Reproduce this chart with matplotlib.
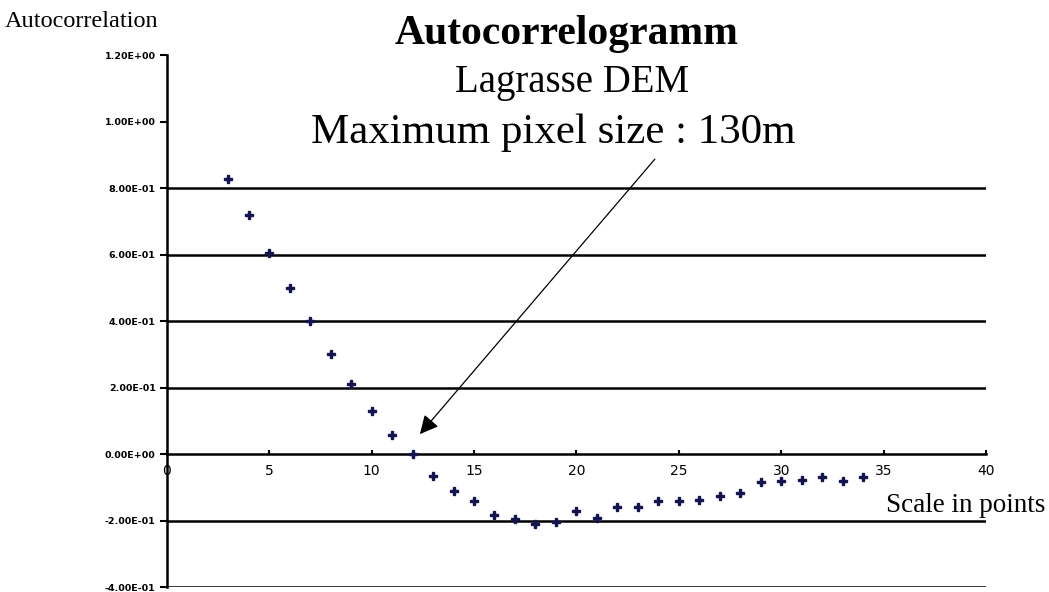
import matplotlib.pyplot as plt
import numpy as np

# autocorrelation
scale = [3, 4, 5, 6, 7, 8, 9, 10, 11, 12, 13, 14, 15, 16, 17, 18, 19, 20, 21,
         22, 23, 24, 25, 26, 27, 28, 29, 30, 31, 32, 33, 34]
autocorr = [0.827, 0.719, 0.605, 0.50, 0.40, 0.30, 0.21, 0.13, 0.057, 0.0,
            -0.066, -0.11, -0.14, -0.183, -0.195, -0.21, -0.204, -0.172,
            -0.192, -0.16, -0.16, -0.142, -0.142, -0.138, -0.127, -0.117,
            -0.084, -0.081, -0.078, -0.068, -0.081, -0.07]
yticks = [-0.4, -0.2, 0.0, 0.2, 0.4, 0.6, 0.8, 1.0, 1.2]
ytick_labels = ['-4.00E-01', '-2.00E-01', '0.00E+00', '2.00E-01', '4.00E-01',
                '6.00E-01', '8.00E-01', '1.00E+00', '1.20E+00']
xticks = [0, 5, 10, 15, 20, 25, 30, 35, 40]

serif = ['Liberation Serif', 'DejaVu Serif']

fig = plt.figure(figsize=(10.49, 5.92), dpi=100)
ax = fig.add_axes([0.159, 0.0084, 0.781, 0.8986])

ax.plot(scale, autocorr, linestyle='none', marker='P', markersize=5.8,
        color='#141450', zorder=3)

ax.set_xlim(0, 40)
ax.set_ylim(-0.4, 1.2)
ax.set_yticks(yticks)
ax.set_yticklabels(ytick_labels, fontsize=6.8, fontweight='bold')
ax.set_xticks(xticks)
ax.set_xticklabels([str(v) for v in xticks], fontsize=7.5, fontweight='bold')

ax.spines['top'].set_visible(False)
ax.spines['right'].set_visible(False)
ax.spines['bottom'].set_position(('data', 0))
ax.spines['left'].set_linewidth(1.8)
ax.spines['bottom'].set_linewidth(1.8)
ax.tick_params(axis='y', direction='out', length=5, width=1.5, pad=3)
ax.tick_params(axis='x', direction='in', length=3, width=1.5, pad=7)

ax.yaxis.grid(True, color='black', linewidth=1.8)
for gl, v in zip(ax.get_ygridlines(), yticks):
    if v >= 1.0 or v == 0.0:
        gl.set_visible(False)
ax.set_axisbelow(True)

ax.annotate('', xy=(12.36, 0.06), xytext=(23.83, 0.887),
            arrowprops=dict(arrowstyle='-|>', color='black', lw=0.9,
                            mutation_scale=28, shrinkA=0, shrinkB=0))

fig.text(0.540, 0.925, 'Autocorrelogramm', ha='center', va='baseline',
         fontsize=30, fontweight='bold', family=serif)
fig.text(0.545, 0.845, 'Lagrasse DEM', ha='center', va='baseline',
         fontsize=28, family=serif)
fig.text(0.527, 0.758, 'Maximum pixel size : 130m', ha='center', va='baseline',
         fontsize=31, family=serif)
fig.text(0.005, 0.954, 'Autocorrelation', ha='left', va='baseline',
         fontsize=17.5, family=serif)
fig.text(0.997, 0.135, 'Scale in points', ha='right', va='baseline',
         fontsize=19.5, family=serif)

plt.savefig('out.png', dpi=100)
